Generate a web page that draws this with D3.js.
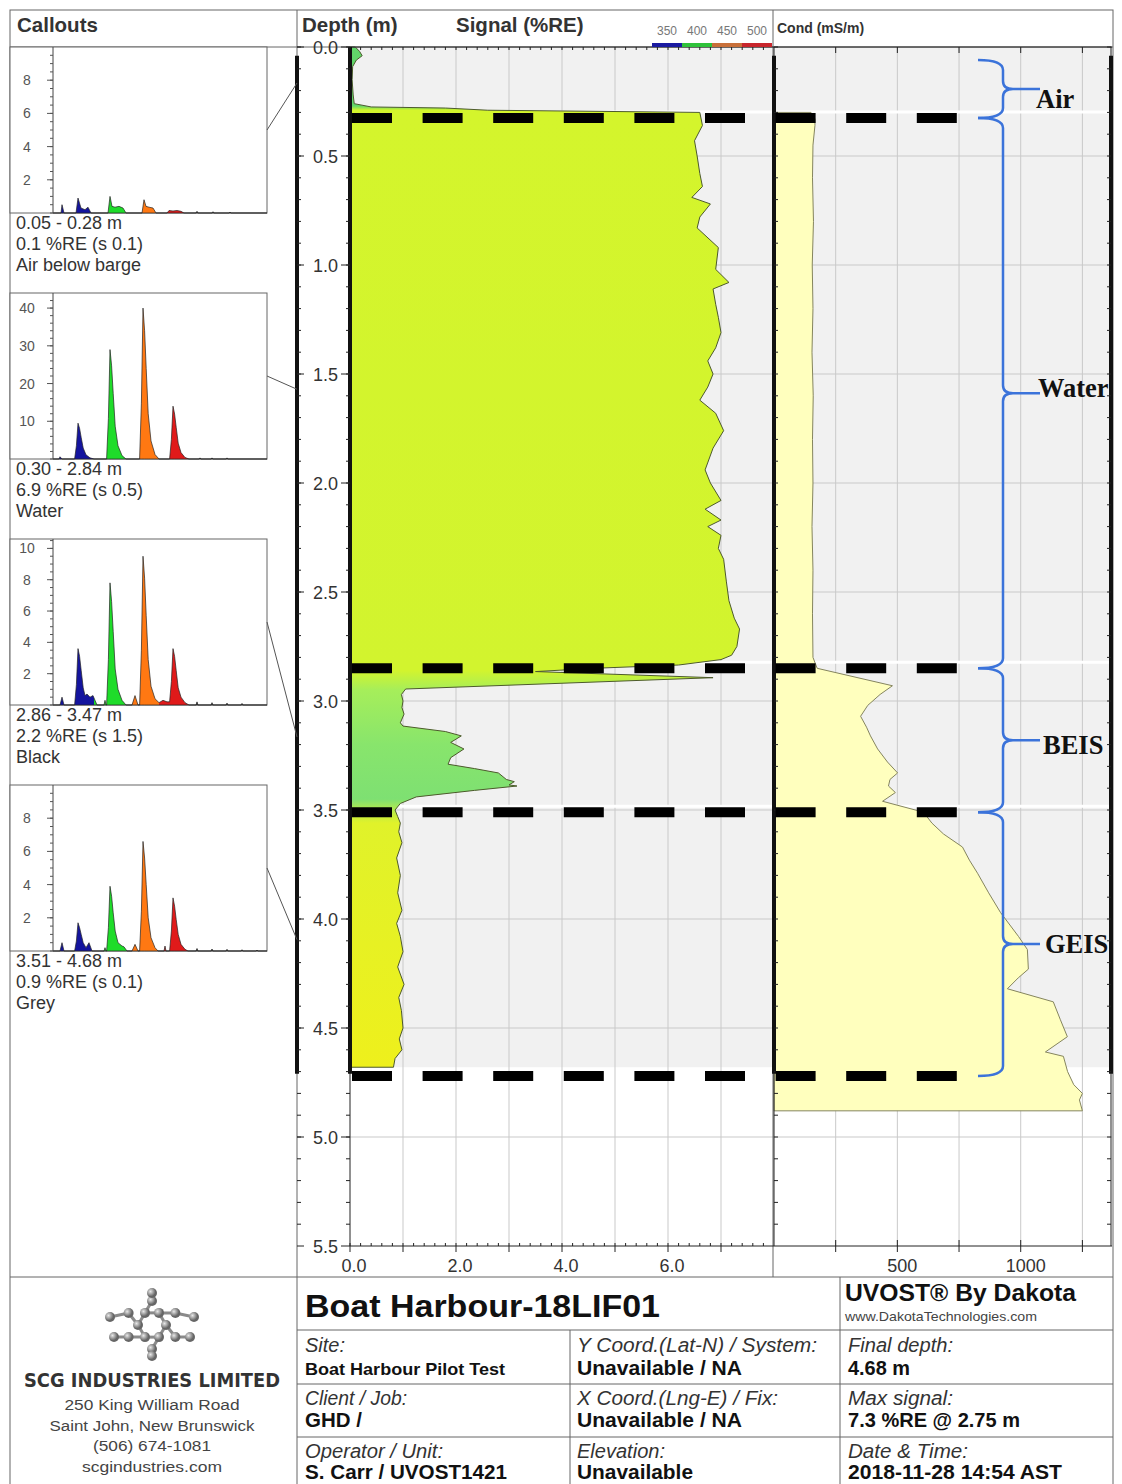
<!DOCTYPE html>
<html>
<head>
<meta charset="utf-8">
<script src="https://cdn.jsdelivr.net/npm/d3@7"></script>
<style>
  body { margin: 0; background: #fff; }
  svg { font-family: "Liberation Sans", Arial, sans-serif; }
</style>
</head>
<body>
<svg id="chart" width="1122" height="1484"></svg>
<script>
// ---------------- data ----------------
const depthTicks = [0, 0.5, 1, 1.5, 2, 2.5, 3, 3.5, 4, 4.5, 5, 5.5];
const signalTicks = [0, 2, 4, 6];
const condTicks = [500, 1000];
const legendNm = [350, 400, 450, 500];

// depth (m), signal (%RE)
const signal = [
  [0.00, 0.10], [0.02, 0.18], [0.04, 0.23], [0.06, 0.12], [0.09, 0.05], [0.15, 0.04], [0.22, 0.06],
  [0.26, 0.08], [0.275, 0.4], [0.28, 1.8], [0.29, 2.6], [0.30, 6.6], [0.36, 6.65], [0.43, 6.5],
  [0.50, 6.55], [0.58, 6.6], [0.64, 6.65], [0.69, 6.45], [0.72, 6.8], [0.78, 6.6], [0.83, 6.55],
  [0.92, 6.95], [1.02, 6.9], [1.08, 7.15], [1.11, 6.85], [1.18, 6.9], [1.24, 6.95], [1.31, 7.0],
  [1.38, 6.9], [1.44, 6.75], [1.50, 6.85], [1.56, 6.75], [1.62, 6.6], [1.68, 6.9], [1.76, 7.05],
  [1.84, 6.85], [1.94, 6.7], [2.00, 6.8], [2.08, 7.0], [2.12, 6.7], [2.17, 7.0], [2.20, 6.75],
  [2.24, 7.0], [2.30, 6.95], [2.35, 7.05], [2.45, 7.1], [2.54, 7.15], [2.62, 7.25], [2.67, 7.35],
  [2.75, 7.3], [2.79, 7.2], [2.81, 7.0], [2.835, 6.2], [2.85, 4.6], [2.865, 3.5], [2.893, 6.85],
  [2.945, 1.05], [2.97, 0.97], [3.00, 1.0], [3.03, 0.98], [3.06, 1.02], [3.10, 0.95], [3.115, 1.0],
  [3.14, 1.8], [3.16, 2.1], [3.19, 1.9], [3.22, 2.15], [3.26, 1.9], [3.29, 1.85], [3.31, 2.35],
  [3.33, 2.8], [3.36, 2.95], [3.37, 3.1], [3.385, 3.0], [3.39, 3.15], [3.41, 2.35], [3.44, 1.25],
  [3.47, 0.95], [3.50, 0.85], [3.53, 0.9], [3.56, 0.95], [3.60, 0.92], [3.65, 0.98], [3.72, 0.88],
  [3.80, 0.95], [3.88, 0.9], [3.96, 0.98], [4.02, 0.88], [4.08, 0.95], [4.15, 1.0], [4.22, 0.9],
  [4.30, 1.02], [4.36, 0.92], [4.42, 0.97], [4.50, 1.0], [4.55, 0.93], [4.60, 0.98], [4.64, 0.85],
  [4.68, 0.82]
];

// depth (m), conductivity (mS/m)
const cond = [
  [0.30, 150], [0.33, 166], [0.36, 166], [0.45, 158], [0.60, 156], [0.80, 160], [1.00, 155],
  [1.20, 158], [1.40, 154], [1.60, 159], [1.80, 156], [2.00, 158], [2.20, 154], [2.40, 158],
  [2.60, 156], [2.80, 158], [2.85, 175], [2.93, 480], [2.97, 430], [3.02, 380], [3.07, 351],
  [3.12, 375], [3.16, 391], [3.22, 420], [3.28, 460], [3.33, 501], [3.36, 470], [3.39, 464],
  [3.42, 492], [3.46, 440], [3.51, 606], [3.56, 640], [3.61, 687], [3.67, 764], [3.73, 792],
  [3.79, 825], [3.88, 870], [3.97, 918], [4.08, 991], [4.14, 1027], [4.23, 1031], [4.27, 990],
  [4.32, 946], [4.38, 1132], [4.46, 1160], [4.54, 1189], [4.61, 1100], [4.63, 1173], [4.70, 1190],
  [4.76, 1215], [4.80, 1250], [4.83, 1238], [4.88, 1250]
];

const layerNames = ['Air', 'Water', 'BEIS', 'GEIS'];
const layerTop = [0.06, 0.326, 2.85, 3.51];
const layerBottom = [0.326, 2.85, 3.51, 4.72];
const boundaryDepths = [0.326, 2.85, 3.51, 4.72];

const calloutTop = [0.05, 0.30, 2.86, 3.51];
const calloutBottom = [0.28, 2.84, 3.47, 4.68];
const calloutStats = ['0.1 %RE (s 0.1)', '6.9 %RE (s 0.5)', '2.2 %RE (s 1.5)', '0.9 %RE (s 0.1)'];
const calloutNames = ['Air below barge', 'Water', 'Black', 'Grey'];
const calloutMax = [10, 44, 10.6, 10];
const calloutTicks = [[2, 4, 6, 8], [10, 20, 30, 40], [2, 4, 6, 8, 10], [2, 4, 6, 8]];

// waveforms: time (ns), amplitude
const waveAir = [
  [0, 0], [4, 0], [4.5, 0.5], [5.5, 0], [11.5, 0], [12.5, 0.9], [14, 0.3], [16, 0.2], [17.5, 0.35],
  [19, 0], [27.5, 0], [28.5, 1.0], [29.5, 0.4], [31, 0.35], [33, 0.4], [35, 0.3], [36.5, 0],
  [44.5, 0], [45.5, 0.8], [46.5, 0.4], [48, 0.35], [50, 0.3], [51.5, 0], [57, 0], [58, 0.15],
  [60, 0.12], [62, 0.15], [64, 0.1], [65.5, 0], [71.5, 0], [72, 0.1], [72.5, 0], [79.5, 0],
  [80, 0.08], [80.5, 0], [88, 0], [88.5, 0.06], [89, 0], [107, 0]
];
const waveWater = [
  [0, 0], [3, 0], [3.5, 0.6], [4.5, 0], [10.8, 0], [11.7, 3.5], [12.5, 9.5], [13.3, 8.1], [14.1, 5.7],
  [15.1, 2.9], [16.5, 1.1], [18.5, 0.3], [20.5, 0], [26.8, 0], [27.7, 10.7], [28.5, 29], [29.3, 24.7],
  [30.1, 17.4], [31.1, 8.7], [32.5, 3.5], [34.5, 0.9], [36.5, 0], [43.3, 0], [44.2, 14.8], [45, 40],
  [45.8, 34], [46.6, 24], [47.6, 12], [49, 4.8], [51, 1.2], [53, 0], [58.3, 0], [59.2, 5.2],
  [60, 14], [60.8, 11.9], [61.6, 8.4], [62.6, 4.2], [64, 1.7], [66, 0.4], [68, 0], [73, 0],
  [73.5, 0.3], [74, 0], [79, 0], [79.5, 0.3], [80, 0], [86.5, 0], [87, 0.3], [87.5, 0], [107, 0]
];
const waveBlack = [
  [0, 0], [3.5, 0], [4.5, 0.5], [5.5, 0], [10.8, 0], [11.7, 1.3], [12.5, 3.6], [13.3, 3.1],
  [14.1, 2.2], [15.1, 1.1], [16, 0.6], [17, 0.7], [18.5, 0.5], [20, 0.6], [21, 0.3], [22, 0],
  [25.5, 0], [26, 0.3], [26.5, 0], [26.8, 0], [27.7, 2.9], [28.5, 7.8], [29.3, 6.6], [30.1, 4.7],
  [31.1, 2.3], [32.5, 1.0], [34.5, 0.3], [36.5, 0], [39.5, 0], [41, 0.6], [42.5, 0], [43.3, 0],
  [44.2, 3.5], [45, 9.5], [45.8, 8.1], [46.6, 5.7], [47.6, 2.9], [49, 1.2], [51, 0.4], [53, 0.15],
  [55, 0.3], [57, 0.2], [58.3, 0.2], [59.2, 1.5], [60, 3.6], [60.8, 3.1], [61.6, 2.2], [62.6, 1.1],
  [64, 0.5], [66, 0.15], [68, 0], [71.5, 0], [72, 0.2], [72.5, 0], [79, 0], [79.5, 0.15], [80, 0],
  [86.5, 0], [87, 0.12], [87.5, 0], [94, 0], [94.5, 0.1], [95, 0], [107, 0]
];
const waveGrey = [
  [0, 0], [3.5, 0], [4.5, 0.5], [5.5, 0], [10.8, 0], [11.7, 0.6], [12.5, 1.7], [13.3, 1.4],
  [14.1, 1.0], [15.1, 0.5], [16.5, 0.2], [18, 0.5], [19.5, 0], [25.5, 0], [26, 0.2], [26.5, 0],
  [26.8, 0], [27.7, 1.4], [28.5, 3.9], [29.3, 3.3], [30.1, 2.3], [31.1, 1.2], [32.5, 0.5],
  [34.5, 0.3], [35.5, 0.25], [37, 0], [39.5, 0], [41, 0.4], [42.5, 0], [43.3, 0], [44.2, 2.4],
  [45, 6.6], [45.8, 5.6], [46.6, 4.0], [47.6, 2.0], [49, 0.8], [51, 0.2], [52.5, 0], [55.5, 0],
  [56, 0.3], [56.5, 0], [58.3, 0], [59.2, 1.2], [60, 3.2], [60.8, 2.7], [61.6, 1.9], [62.6, 1.0],
  [64, 0.4], [66, 0.1], [67.5, 0], [71.5, 0], [72, 0.15], [72.5, 0], [79, 0], [79.5, 0.12], [80, 0],
  [86.5, 0], [87, 0.1], [87.5, 0], [94, 0], [94.5, 0.08], [95, 0], [101.5, 0], [102, 0.06],
  [102.5, 0], [107, 0]
];
const waves = [waveAir, waveWater, waveBlack, waveGrey];

const infoLabels = [
  ['Site:', 'Y Coord.(Lat-N) / System:', 'Final depth:'],
  ['Client / Job:', 'X Coord.(Lng-E) / Fix:', 'Max signal:'],
  ['Operator / Unit:', 'Elevation:', 'Date & Time:']
];
const infoValues = [
  ['Boat Harbour Pilot Test', 'Unavailable / NA', '4.68 m'],
  ['GHD /', 'Unavailable / NA', '7.3 %RE @ 2.75 m'],
  ['S. Carr / UVOST1421', 'Unavailable', '2018-11-28 14:54 AST']
];
const address = ['250 King William Road', 'Saint John, New Brunswick', '(506) 674-1081', 'scgindustries.com'];

// ---------------- scales ----------------
const svg = d3.select('#chart');
const defs = svg.append('defs');
const y = d3.scaleLinear().domain([0, 5.5]).range([47, 1246]);
const xSig = d3.scaleLinear().domain([0, 8]).range([350, 774]);
const xCond = d3.scaleLinear().domain([0, 1370]).range([774, 1112]);
const dataEnd = 4.68;

function txt(g, x, yy, s, o = {}) {
  const t = g.append('text').attr('x', x).attr('y', yy).text(s)
    .attr('font-size', o.size || 16).attr('fill', o.fill || '#222');
  if (o.weight) t.attr('font-weight', o.weight);
  if (o.style) t.attr('font-style', o.style);
  if (o.anchor) t.attr('text-anchor', o.anchor);
  if (o.family) t.style('font-family', o.family);
  if (o.len) t.attr('textLength', o.len).attr('lengthAdjust', 'spacingAndGlyphs');
  return t;
}

svg.append('rect').attr('width', 1122).attr('height', 1484).attr('fill', '#fff');

// ---------------- track backgrounds & grid ----------------
const plot = svg.append('g');
plot.append('rect').attr('x', xSig(0)).attr('y', y(0)).attr('width', xCond(1370) - xSig(0))
  .attr('height', y(dataEnd) - y(0)).attr('fill', '#f1f1f1');

const grid = plot.append('g').attr('stroke', '#c9c9c9').attr('stroke-width', 1);
grid.selectAll('.hg').data(depthTicks.filter(d => d > 0 && d < 5.5)).enter().append('line')
  .attr('x1', xSig(0)).attr('x2', xCond(1370)).attr('y1', d => y(d)).attr('y2', d => y(d));
grid.selectAll('.vs').data(d3.range(1, 8)).enter().append('line')
  .attr('x1', d => xSig(d)).attr('x2', d => xSig(d)).attr('y1', y(0)).attr('y2', y(5.5));
grid.selectAll('.vc').data([250, 500, 750, 1000, 1250]).enter().append('line')
  .attr('x1', d => xCond(d)).attr('x2', d => xCond(d)).attr('y1', y(0)).attr('y2', y(5.5));

// white gaps left by the boundary annotations
plot.selectAll('.gap').data(boundaryDepths.slice(0, 3)).enter().append('line')
  .attr('x1', xSig(0)).attr('x2', xCond(1370))
  .attr('y1', d => y(d) - 6).attr('y2', d => y(d) - 6)
  .attr('stroke', '#fff').attr('stroke-width', 3);

// ---------------- signal fill ----------------
const sigGrad = defs.append('linearGradient').attr('id', 'sigGrad')
  .attr('gradientUnits', 'userSpaceOnUse')
  .attr('x1', 0).attr('x2', 0).attr('y1', y(0)).attr('y2', y(dataEnd));
[[0, '#62d66a'], [0.27, '#62d66a'], [0.29, '#d4f52c'], [2.86, '#d2f42e'], [2.95, '#a6ee5a'],
 [3.2, '#88e56c'], [3.45, '#7ee072'], [3.50, '#b4ea4c'], [3.56, '#e0f22a'], [4.68, '#eef01c']]
  .forEach(s => sigGrad.append('stop')
    .attr('offset', (y(s[0]) - y(0)) / (y(dataEnd) - y(0))).attr('stop-color', s[1]));

const sigArea = d3.area().y(d => y(d[0])).x0(xSig(0)).x1(d => xSig(d[1]));
plot.append('path').datum(signal).attr('d', sigArea)
  .attr('fill', 'url(#sigGrad)').attr('stroke', '#4d5a2c').attr('stroke-width', 1);

// ---------------- conductivity fill ----------------
const condArea = d3.area().y(d => y(d[0])).x0(xCond(0)).x1(d => xCond(d[1]));
plot.append('path').datum(cond).attr('d', condArea)
  .attr('fill', '#ffffbe').attr('stroke', '#85855e').attr('stroke-width', 1);

// ---------------- frame ----------------
const frame = svg.append('g').attr('stroke', '#666').attr('fill', 'none');
frame.append('rect').attr('x', 10).attr('y', 10).attr('width', 1103).attr('height', 1500);
frame.append('line').attr('x1', 10).attr('x2', 1113).attr('y1', 47).attr('y2', 47);
frame.append('line').attr('x1', 297).attr('x2', 297).attr('y1', 10).attr('y2', 1484);
frame.append('line').attr('x1', 773).attr('x2', 773).attr('y1', 10).attr('y2', 1277);
frame.append('line').attr('x1', 10).attr('x2', 1113).attr('y1', 1277).attr('y2', 1277);

// ---------------- axes ----------------
const ax = svg.append('g').attr('stroke', '#222');
ax.append('line').attr('x1', xSig(0)).attr('x2', xCond(1370)).attr('y1', y(0)).attr('y2', y(0));
ax.append('line').attr('x1', xSig(0)).attr('x2', xCond(1370)).attr('y1', y(5.5)).attr('y2', y(5.5));
ax.append('line').attr('x1', xSig(0)).attr('x2', xSig(0)).attr('y1', y(0)).attr('y2', y(5.5));
ax.append('line').attr('x1', xCond(0)).attr('x2', xCond(0)).attr('y1', y(0)).attr('y2', y(5.5));
ax.append('line').attr('x1', 1111).attr('x2', 1111).attr('y1', y(0)).attr('y2', y(5.5));

// thick data-range bars
[[297, 0.04], [xSig(0), 0], [xCond(0), 0.04], [1111, 0.04]].forEach(b => {
  ax.append('line').attr('x1', b[0]).attr('x2', b[0]).attr('y1', y(b[1])).attr('y2', y(4.71))
    .attr('stroke', '#111').attr('stroke-width', 4);
});

// depth minor ticks
const minorDepth = d3.range(0, 55).map(i => i / 10);
[[297, 4], [xSig(0), -4], [xCond(0), 4], [1111, -4]].forEach(b => {
  ax.selectAll(null).data(minorDepth).enter().append('line')
    .attr('x1', b[0]).attr('x2', b[0] + b[1]).attr('y1', d => y(d)).attr('y2', d => y(d))
    .attr('stroke-width', 1);
});
// depth major ticks + labels
ax.selectAll('.dt1').data(depthTicks).enter().append('line')
  .attr('x1', 297).attr('x2', 304).attr('y1', d => y(d)).attr('y2', d => y(d));
ax.selectAll('.dt2').data(depthTicks).enter().append('line')
  .attr('x1', 341).attr('x2', xSig(0)).attr('y1', d => y(d)).attr('y2', d => y(d));
svg.append('g').selectAll('text').data(depthTicks).enter().append('text')
  .attr('x', 338).attr('y', d => y(d) + 6.5).attr('text-anchor', 'end')
  .attr('font-size', 18).attr('fill', '#333').text(d => d.toFixed(1));

// signal x ticks
const sigMinor = d3.range(0, 40).map(i => i * 0.2);
ax.selectAll('.sxt').data(sigMinor).enter().append('line')
  .attr('x1', d => xSig(d)).attr('x2', d => xSig(d)).attr('y1', y(0)).attr('y2', y(0) + 3);
ax.selectAll('.sxb').data(sigMinor).enter().append('line')
  .attr('x1', d => xSig(d)).attr('x2', d => xSig(d)).attr('y1', y(5.5)).attr('y2', y(5.5) - 3);
ax.selectAll('.sxB').data(d3.range(0, 8)).enter().append('line')
  .attr('x1', d => xSig(d)).attr('x2', d => xSig(d)).attr('y1', y(5.5)).attr('y2', y(5.5) + 6);
svg.append('g').selectAll('text').data(signalTicks).enter().append('text')
  .attr('x', d => xSig(d) + 4).attr('y', 1272).attr('text-anchor', 'middle')
  .attr('font-size', 18).attr('fill', '#333').text(d => d.toFixed(1));

// cond ticks
const condMinor = [250, 500, 750, 1000, 1250];
ax.selectAll('.cxt').data(condMinor).enter().append('line')
  .attr('x1', d => xCond(d)).attr('x2', d => xCond(d)).attr('y1', y(0)).attr('y2', y(0) + 6);
ax.selectAll('.cxb').data(condMinor).enter().append('line')
  .attr('x1', d => xCond(d)).attr('x2', d => xCond(d)).attr('y1', y(5.5) - 6).attr('y2', y(5.5) + 6);
svg.append('g').selectAll('text').data(condTicks).enter().append('text')
  .attr('x', d => xCond(d) + 5).attr('y', 1272).attr('text-anchor', 'middle')
  .attr('font-size', 18).attr('fill', '#333').text(d => d);

// ---------------- boundary dashes & braces ----------------
svg.append('g').selectAll('line').data(boundaryDepths).enter().append('line')
  .attr('x1', 352).attr('x2', 958).attr('y1', d => y(d)).attr('y2', d => y(d))
  .attr('stroke', '#000').attr('stroke-width', 10).attr('stroke-dasharray', '40 30.6');

function brace(y1, y2) {
  const ym = (y1 + y2) / 2, bx = 1003;
  return `M978,${y1} Q${bx},${y1} ${bx},${y1 + 10} L${bx},${ym - 8} Q${bx},${ym} ${bx + 10},${ym} L1040,${ym}` +
    ` M${bx + 10},${ym} Q${bx},${ym} ${bx},${ym + 8} L${bx},${y2 - 10} Q${bx},${y2} 978,${y2}`;
}
const labelDx = [1036, 1038, 1043, 1045];
const labelDy = [19, 4, 14, 9];
const br = svg.append('g');
br.selectAll('path').data(layerNames).enter().append('path')
  .attr('d', (d, i) => brace(y(layerTop[i]), y(layerBottom[i])))
  .attr('fill', 'none').attr('stroke', '#3b73da').attr('stroke-width', 2.5);
br.selectAll('text').data(layerNames).enter().append('text')
  .attr('x', (d, i) => labelDx[i])
  .attr('y', (d, i) => (y(layerTop[i]) + y(layerBottom[i])) / 2 + labelDy[i])
  .style('font-family', '"Liberation Serif", "Times New Roman", serif')
  .attr('font-weight', 'bold').attr('font-size', 26.5).attr('fill', '#111').text(d => d);

// ---------------- header ----------------
const hd = svg.append('g');
txt(hd, 17, 32, 'Callouts', { size: 20.5, weight: 'bold', fill: '#333' });
txt(hd, 302, 32, 'Depth (m)', { size: 20.5, weight: 'bold', fill: '#333' });
txt(hd, 456, 32, 'Signal (%RE)', { size: 20.5, weight: 'bold', fill: '#333' });
txt(hd, 777, 33, 'Cond (mS/m)', { size: 14, weight: 'bold', fill: '#333' });
const xNm = d3.scaleLinear().domain([350, 500]).range([667, 757]);
hd.selectAll('.nm').data(legendNm).enter().append('text')
  .attr('x', d => xNm(d)).attr('y', 35).attr('text-anchor', 'middle')
  .attr('font-size', 12).attr('fill', '#777').text(d => d);
const nmColors = ['#1a1aa0', '#2fc23a', '#c8703a', '#c8262c'];
hd.selectAll('.nmb').data(legendNm).enter().append('rect')
  .attr('x', d => xNm(d - 25)).attr('y', 43).attr('width', d => xNm(d + 25) - xNm(d - 25)).attr('height', 4)
  .attr('fill', (d, i) => nmColors[i]);

// ---------------- callouts ----------------
const chanColors = ['#14149e', '#1fdc2a', '#ff7812', '#e01a1a', '#333'];
const tx = d3.scaleLinear().domain([0, 107]).range([53, 267]);
const waveGrad = defs.append('linearGradient').attr('id', 'waveGrad')
  .attr('gradientUnits', 'userSpaceOnUse').attr('x1', tx(0)).attr('x2', tx(107)).attr('y1', 0).attr('y2', 0);
[20.5, 37, 53, 68].forEach((b, i) => {
  waveGrad.append('stop').attr('offset', (tx(b) - tx(0)) / (tx(107) - tx(0))).attr('stop-color', chanColors[i]);
  waveGrad.append('stop').attr('offset', (tx(b) - tx(0)) / (tx(107) - tx(0))).attr('stop-color', chanColors[i + 1]);
});

waves.forEach((wave, i) => {
  const top = 47 + i * 246, bottom = top + 166;
  const g = svg.append('g');
  const vy = d3.scaleLinear().domain([0, calloutMax[i]]).range([bottom, top]);
  g.append('rect').attr('x', 10).attr('y', top).attr('width', 257).attr('height', 166)
    .attr('fill', '#fff').attr('stroke', '#666');
  const area = d3.area().x(d => tx(d[0])).y0(bottom).y1(d => vy(d[1]));
  g.append('path').datum(wave).attr('d', area).attr('fill', 'url(#waveGrad)')
    .attr('stroke', '#222').attr('stroke-width', 0.7);
  g.append('line').attr('x1', 53).attr('x2', 53).attr('y1', top).attr('y2', bottom).attr('stroke', '#444');
  const step = calloutMax[i] > 20 ? 2 : 0.5;
  g.selectAll('.mt').data(d3.range(0, calloutMax[i], step)).enter().append('line')
    .attr('x1', 50).attr('x2', 53).attr('y1', d => vy(d)).attr('y2', d => vy(d)).attr('stroke', '#555');
  g.selectAll('.Mt').data(calloutTicks[i]).enter().append('line')
    .attr('x1', 47).attr('x2', 53).attr('y1', d => vy(d)).attr('y2', d => vy(d)).attr('stroke', '#555');
  g.selectAll('.tl').data(calloutTicks[i]).enter().append('text')
    .attr('x', 27).attr('y', d => vy(d) + 5).attr('text-anchor', 'middle')
    .attr('font-size', 14).attr('fill', '#555').text(d => d);
  txt(g, 16, bottom + 16, `${calloutTop[i].toFixed(2)} - ${calloutBottom[i].toFixed(2)} m`, { size: 18, fill: '#333' });
  txt(g, 16, bottom + 37, calloutStats[i], { size: 18, fill: '#333' });
  txt(g, 16, bottom + 58, calloutNames[i], { size: 18, fill: '#333' });
  // connector to the depth track
  g.append('line').attr('x1', 267).attr('y1', (top + bottom) / 2)
    .attr('x2', 297).attr('y2', y((calloutTop[i] + calloutBottom[i]) / 2))
    .attr('stroke', '#555').attr('stroke-width', 1);
});

// ---------------- info block ----------------
const info = svg.append('g');
const il = info.append('g').attr('stroke', '#666');
il.append('line').attr('x1', 297).attr('x2', 1113).attr('y1', 1330).attr('y2', 1330);
il.append('line').attr('x1', 297).attr('x2', 1113).attr('y1', 1384).attr('y2', 1384);
il.append('line').attr('x1', 297).attr('x2', 1113).attr('y1', 1437).attr('y2', 1437);
il.append('line').attr('x1', 570).attr('x2', 570).attr('y1', 1330).attr('y2', 1484);
il.append('line').attr('x1', 840).attr('x2', 840).attr('y1', 1277).attr('y2', 1484);

const narrow = '"Liberation Sans Narrow", "Arial Narrow", "Liberation Sans", sans-serif';
txt(info, 305, 1317, 'Boat Harbour-18LIF01', { size: 32, weight: 'bold', fill: '#111', family: narrow, len: 355 });
txt(info, 845, 1301, 'UVOST® By Dakota', { size: 23, weight: 'bold', fill: '#111', family: narrow, len: 231 });
txt(info, 845, 1321, 'www.DakotaTechnologies.com', { size: 13, fill: '#444', family: narrow, len: 192 });
const colX = [305, 577, 848];
const labelW = [[40, 240, 105], [102, 201, 105], [138, 88, 120]];
const valueW = [[200, 165, 62], [57, 165, 172], [202, 116, 214]];
infoLabels.forEach((row, r) => row.forEach((s, c) => {
  txt(info, colX[c], 1352 + r * 53, s, { size: 20, style: 'italic', fill: '#333', family: narrow, len: labelW[r][c] });
}));
infoValues.forEach((row, r) => row.forEach((s, c) => {
  txt(info, colX[c], 1375 + r * 52, s, { size: r === 0 && c === 0 ? 17 : 20, weight: 'bold', fill: '#111', family: narrow, len: valueW[r][c] });
}));

// logo
const logo = info.append('g').attr('transform', 'translate(152,1325)');
const ballGrad = defs.append('radialGradient').attr('id', 'ball').attr('cx', '35%').attr('cy', '35%');
ballGrad.append('stop').attr('offset', 0).attr('stop-color', '#e8e8e8');
ballGrad.append('stop').attr('offset', 1).attr('stop-color', '#666');
const ring = d3.range(6).map(k => [Math.cos(k * Math.PI / 3) * 14, Math.sin(k * Math.PI / 3) * 14]);
const outer = d3.range(6).map(k => [Math.cos(k * Math.PI / 3 + Math.PI / 6) * 27, Math.sin(k * Math.PI / 3 + Math.PI / 6) * 24]);
const tips = [[-42, -8], [42, -8], [-38, 12], [38, 12], [0, -32], [0, 31]];
const bonds = [];
ring.forEach((p, k) => { bonds.push([p, ring[(k + 1) % 6]]); bonds.push([p, outer[k]]); });
bonds.push([outer[2], tips[2]], [outer[3], tips[0]], [outer[5], tips[1]], [outer[0], tips[3]], [outer[4], tips[4]], [outer[1], tips[5]]);
logo.selectAll('line').data(bonds).enter().append('line')
  .attr('x1', d => d[0][0]).attr('y1', d => d[0][1]).attr('x2', d => d[1][0]).attr('y2', d => d[1][1])
  .attr('stroke', '#8a8a8a').attr('stroke-width', 3);
logo.selectAll('circle').data(ring.concat(outer, tips)).enter().append('circle')
  .attr('cx', d => d[0]).attr('cy', d => d[1]).attr('r', 5).attr('fill', 'url(#ball)');

txt(info, 152, 1387, 'SCG INDUSTRIES LIMITED', { size: 20, weight: 'bold', fill: '#333', anchor: 'middle', family: '"DejaVu Sans", sans-serif', len: 256 });
const addrW = [175, 205, 118, 140];
address.forEach((s, i) => txt(info, 152, 1410 + i * 20.5, s, { size: 15.5, fill: '#444', anchor: 'middle', len: addrW[i] }));
</script>
</body>
</html>
